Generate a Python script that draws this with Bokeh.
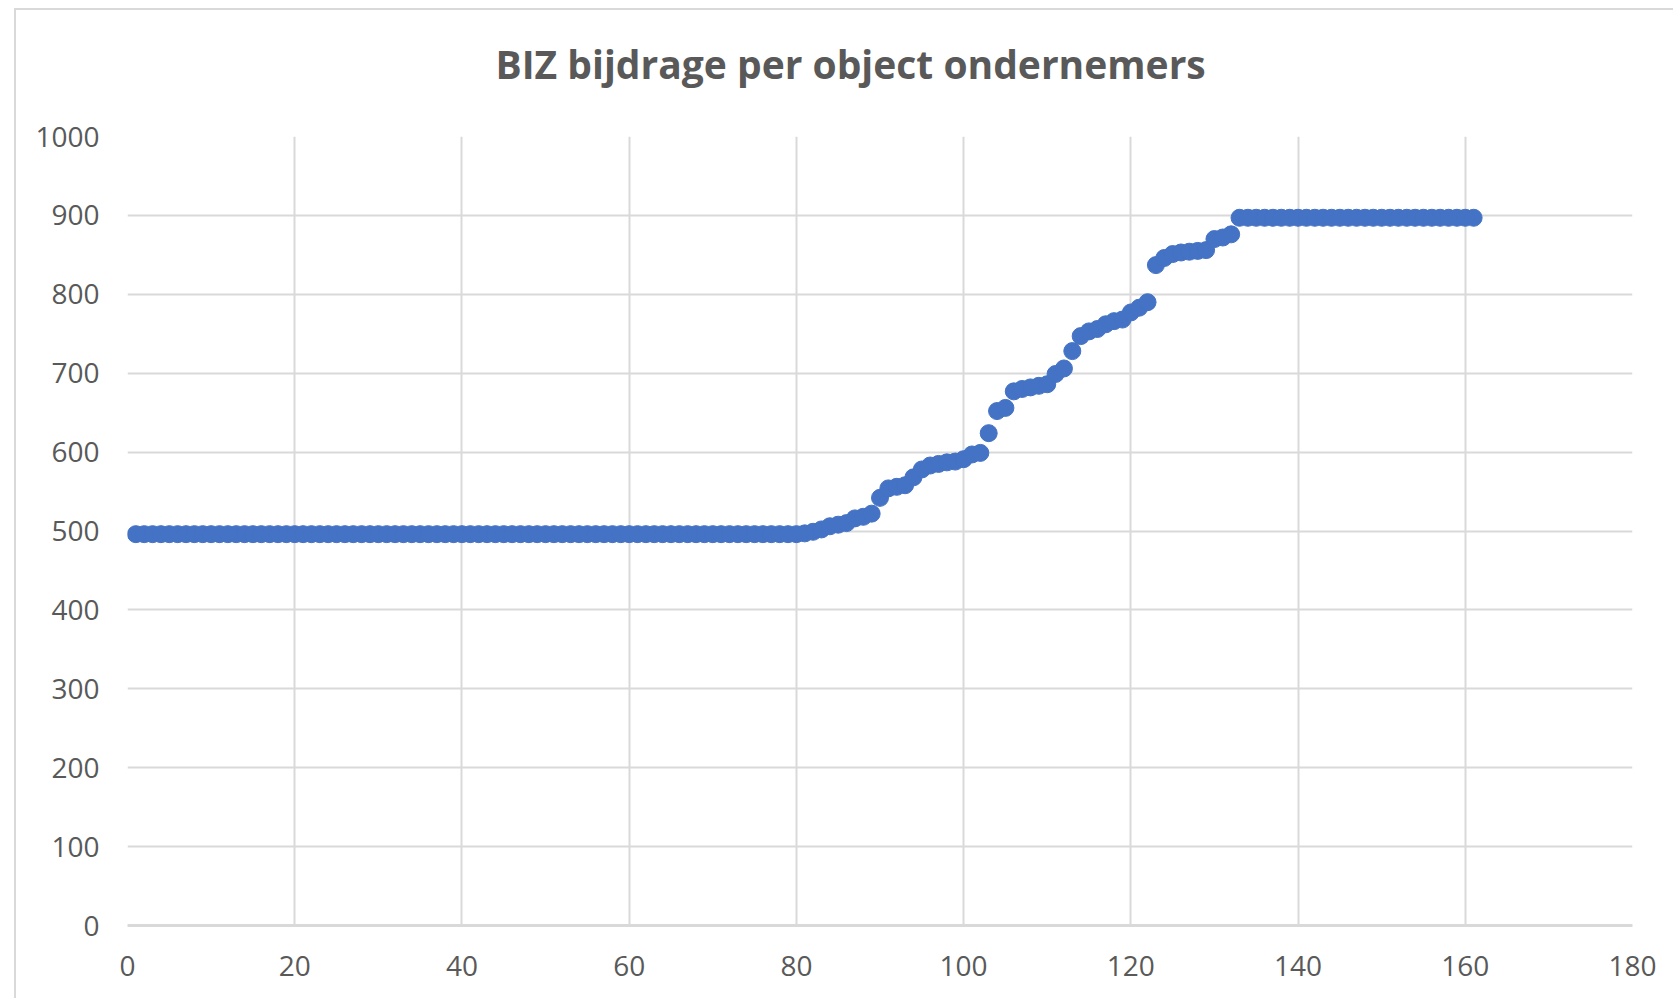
from bokeh.plotting import figure
from bokeh.embed import file_html
from bokeh.resources import INLINE
from bokeh.models import FixedTicker, Range1d, Title

title_text = "BIZ bijdrage per object ondernemers"

# object index (sorted by contribution)
objects = list(range(1, 162))

# contribution per object (EUR)
flat_low = [
    496, 496, 496, 496, 496, 496, 496, 496, 496, 496,
    496, 496, 496, 496, 496, 496, 496, 496, 496, 496,
    496, 496, 496, 496, 496, 496, 496, 496, 496, 496,
    496, 496, 496, 496, 496, 496, 496, 496, 496, 496,
    496, 496, 496, 496, 496, 496, 496, 496, 496, 496,
    496, 496, 496, 496, 496, 496, 496, 496, 496, 496,
    496, 496, 496, 496, 496, 496, 496, 496, 496, 496,
    496, 496, 496, 496, 496, 496, 496, 496, 496, 496,
    497,
]
rising = [
    499, 502, 506, 508, 510, 516, 518, 522, 542, 554,
    556, 558, 568, 578, 583, 585, 587, 588, 591, 597,
    599, 624, 652, 656, 677, 680, 682, 684, 686, 699,
    706, 728, 747, 753, 756, 762, 766, 768, 777, 783,
    790, 837, 846, 851, 853, 854, 855, 856, 870, 872,
    876,
]
flat_high = [
    897, 897, 897, 897, 897, 897, 897, 897, 897, 897,
    897, 897, 897, 897, 897, 897, 897, 897, 897, 897,
    897, 897, 897, 897, 897, 897, 897, 897, 897,
]
contribution = flat_low + rising + flat_high

x_ticks = [0, 20, 40, 60, 80, 100, 120, 140, 160, 180]
y_ticks = [0, 100, 200, 300, 400, 500, 600, 700, 800, 900, 1000]

FONT = "Open Sans"
GREY_TEXT = "#595959"
GRID = "#d9d9d9"

p = figure(
    width=1659, height=990,
    output_backend="svg", toolbar_location=None,
    x_range=Range1d(0, 180), y_range=Range1d(0, 1000),
    title=None,
    min_border_left=111, min_border_right=43,
    min_border_top=126, min_border_bottom=75,
)
p.styles = {
    "margin-left": "14px", "margin-top": "8px",
    "border-top": "2px solid #d9d9d9", "border-left": "2px solid #d9d9d9",
}

# blank spacer between title and plot area
spacer = Title(text=" ", text_font_size="10px", standoff=34, text_color="white")
p.add_layout(spacer, "above")

main_title = Title(
    text=title_text, align="left", offset=368, standoff=0,
    text_font=FONT, text_font_size="39px", text_font_style="bold",
    text_color=GREY_TEXT,
)
p.add_layout(main_title, "above")

p.outline_line_color = None
p.background_fill_color = "white"
p.border_fill_color = "white"

p.xaxis.ticker = FixedTicker(ticks=x_ticks)
p.yaxis.ticker = FixedTicker(ticks=y_ticks)
for ax in (p.xaxis[0], p.yaxis[0]):
    ax.major_tick_line_color = None
    ax.minor_tick_line_color = None
    ax.major_label_text_font = FONT
    ax.major_label_text_font_size = "28px"
    ax.major_label_text_color = GREY_TEXT
p.yaxis.axis_line_color = None
p.xaxis.axis_line_color = GRID
p.xaxis.axis_line_width = 3
p.yaxis.major_label_standoff = 22
p.xaxis.major_label_standoff = 24

p.xgrid.grid_line_color = GRID
p.xgrid.grid_line_width = 2
p.ygrid.grid_line_color = GRID
p.ygrid.grid_line_width = 2

p.scatter(objects, contribution, size=17, color="#4472C4", line_color="#4472C4")

open("out.html", "w").write(file_html(p, INLINE))
